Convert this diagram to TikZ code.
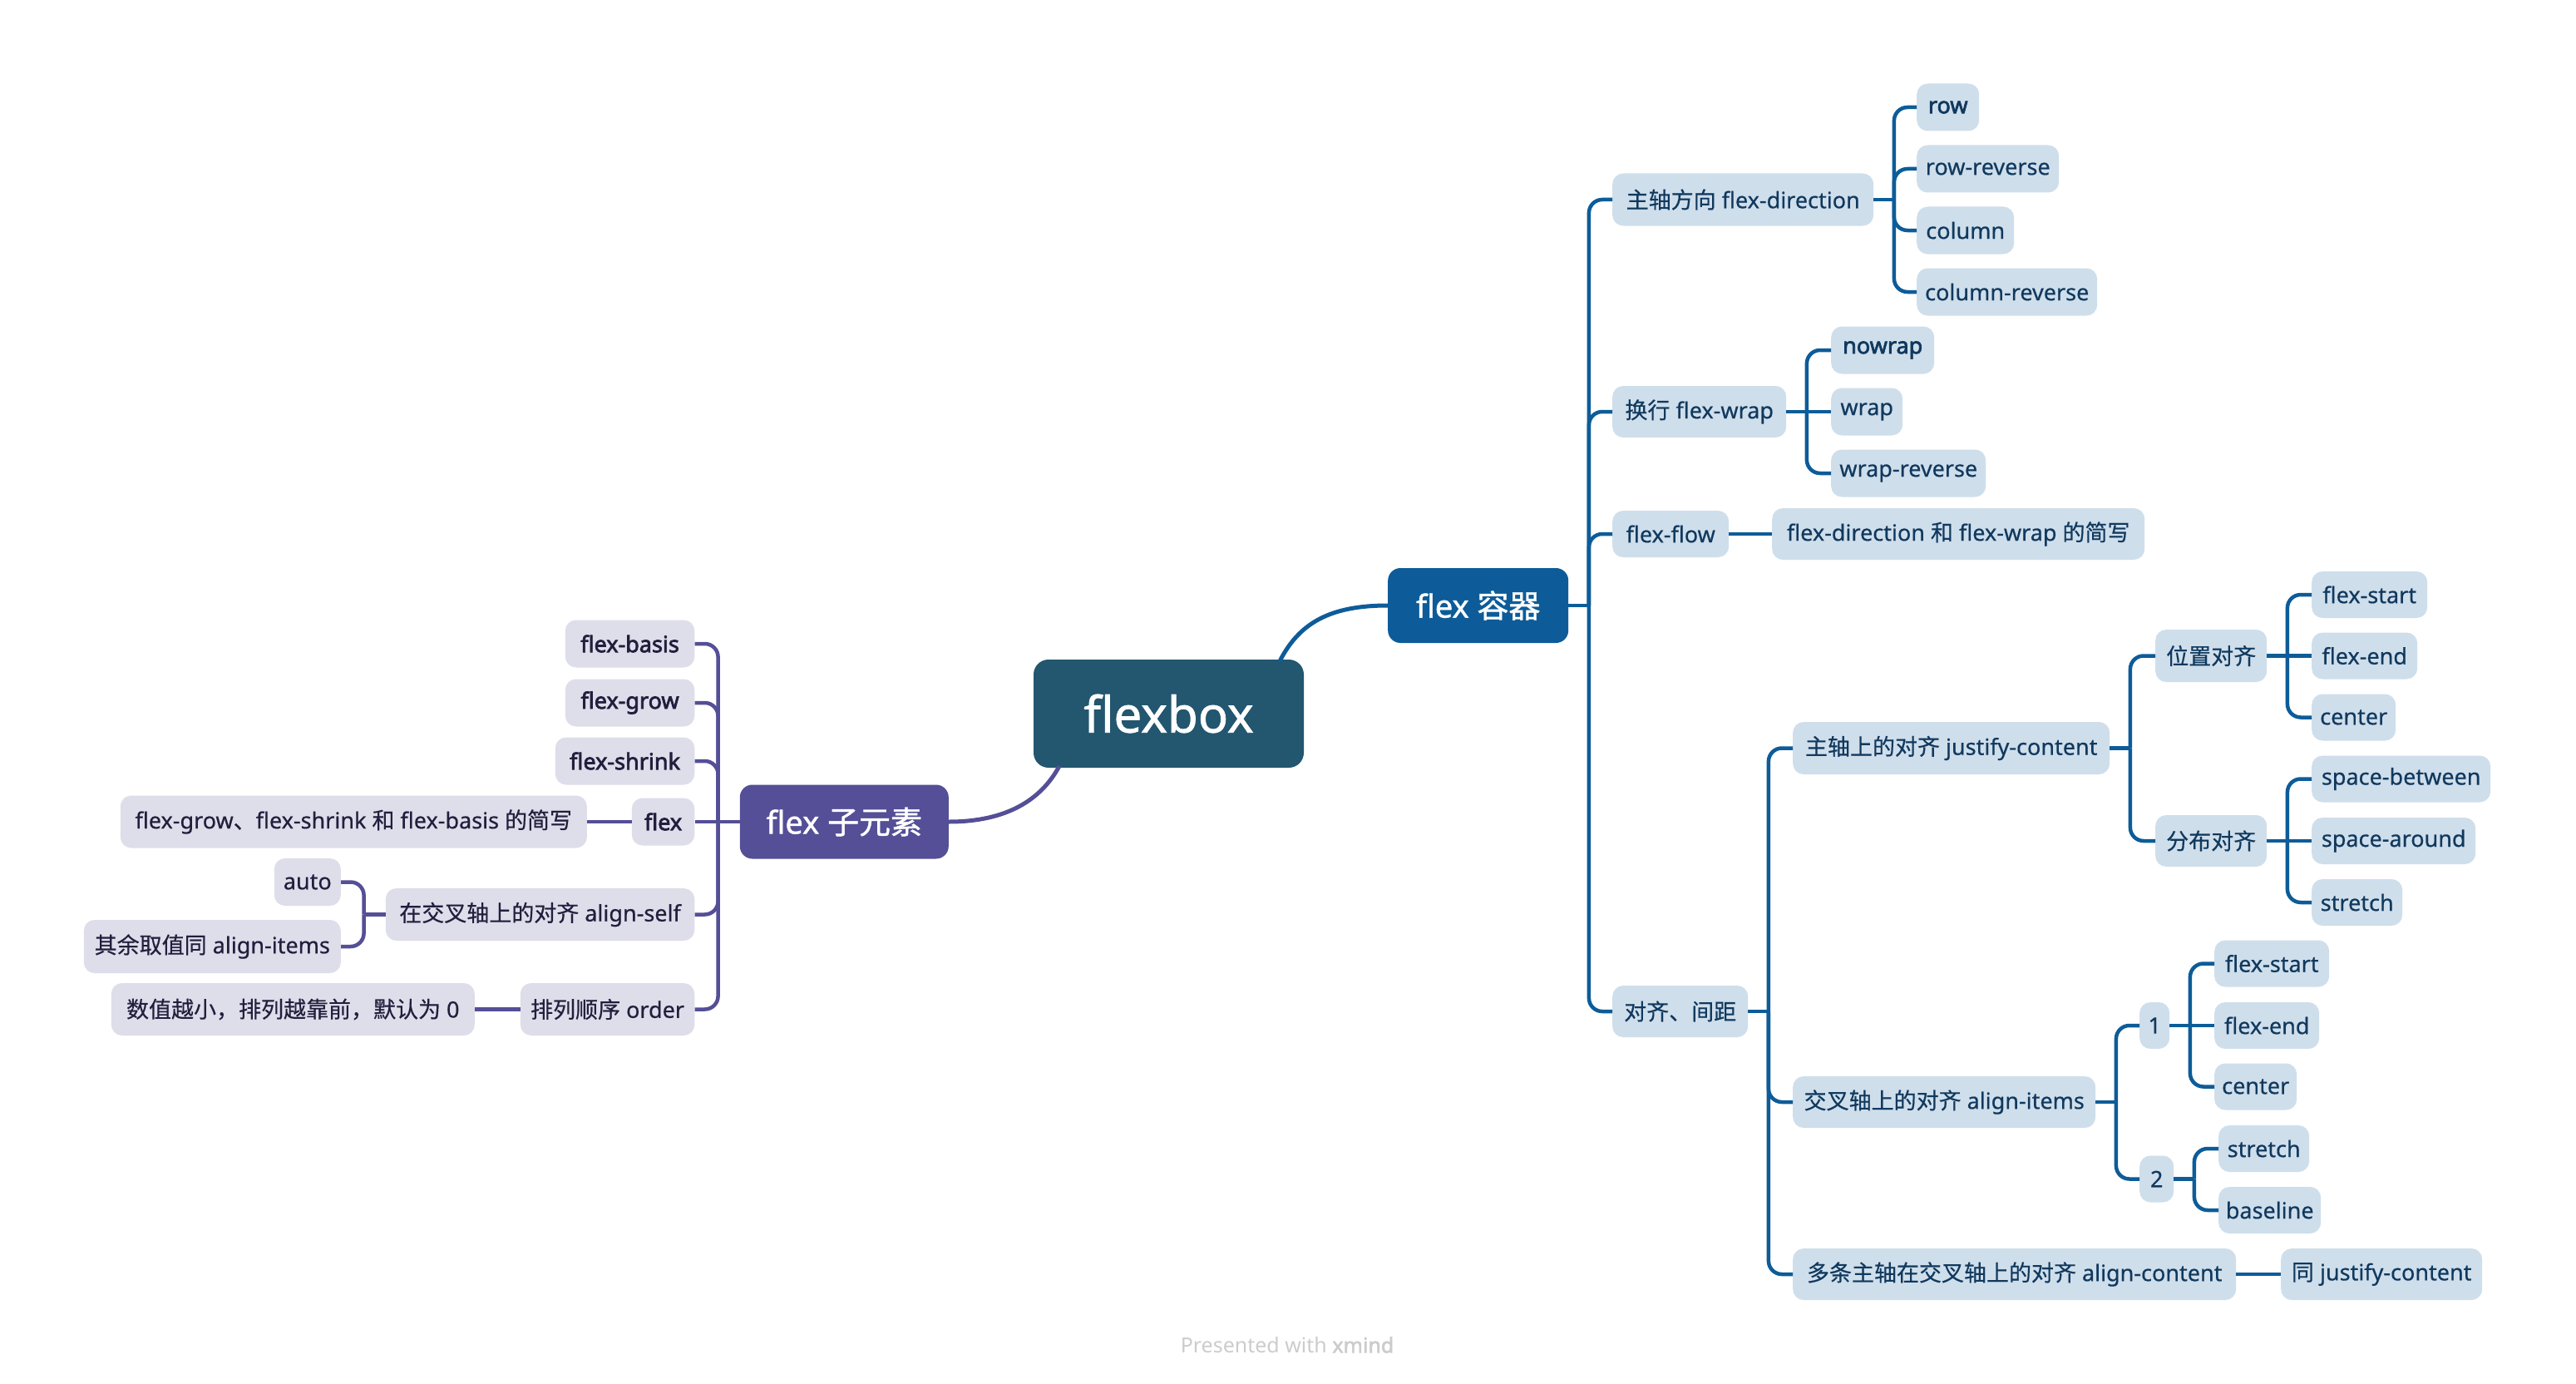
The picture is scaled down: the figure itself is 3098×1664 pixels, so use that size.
\documentclass[tikz,border=0pt]{standalone}
\usepackage{fontspec}
\setmainfont{Noto Sans}[FakeBold=0.5]
\newfontfamily\cjk{Noto Sans CJK SC}[FakeBold=0.5]
\newfontfamily\bff{Noto Sans}[FakeBold=2.6]
\newfontfamily\topicf{Noto Sans}[FakeBold=1.2]
\newfontfamily\topiccjk{Noto Sans CJK SC}[FakeBold=1.2]
\newfontfamily\wmf{Noto Sans}
\newfontfamily\wmb{Noto Sans}[FakeBold=2.2]
\newcommand\zh[1]{{\cjk #1}}
\newcommand\tzh[1]{{\topiccjk #1}}
\newcommand\bb[1]{{\bff #1}}
\usetikzlibrary{calc}
\definecolor{rootc}{HTML}{23566F}
\definecolor{bmain}{HTML}{0D5C99}
\definecolor{pmain}{HTML}{544F96}
\definecolor{bfill}{HTML}{CFDEEB}
\definecolor{pfill}{HTML}{DEDDEA}
\definecolor{btext}{HTML}{10395E}
\definecolor{ptext}{HTML}{221E3D}
\definecolor{wmc}{HTML}{CCCCCC}
\tikzset{
  base/.style={rounded corners=13pt, inner sep=0pt, minimum height=57pt, font=\fontsize{27}{31}\selectfont},
  bn/.style={base, fill=bfill, text=btext, anchor=west},
  pn/.style={base, fill=pfill, text=ptext, anchor=east},
  topic/.style={rounded corners=15pt, inner sep=0pt, text=white, font=\topicf\fontsize{38}{44}\selectfont},
  bl/.style={draw=bmain, line width=4.5pt, rounded corners=16pt},
  pl/.style={draw=pmain, line width=4.5pt, rounded corners=16pt},
}
\newcommand\rb[2]{\draw[bl] (#1.east) -- ++(24.5,0); \draw[bl] ($(#1.east)+(24.5,0)$) |- (#2.west);}
\newcommand\rd[2]{\draw[bl] (#1.east) -- (#2.west);}
\newcommand\lb[2]{\draw[pl] (#1.west) -- ++(-26,0); \draw[pl] ($(#1.west)+(-26,0)$) |- (#2.east);}
\newcommand\ld[2]{\draw[pl] (#1.west) -- (#2.east);}
\begin{document}
\begin{tikzpicture}[x=1pt,y=-1pt]
\fill[white] (0,0) rectangle (3098,1664);
\useasboundingbox (0,0) rectangle (3098,1664);

% main topics
\node[topic, fill=rootc, rounded corners=18pt, minimum width=325pt, minimum height=130pt, font=\topicf\fontsize{60}{70}\selectfont] (root) at (1405.5,858) {flexbox};
\node[topic, fill=bmain, anchor=west, minimum width=217pt, minimum height=90pt] (cont) at (1669,728) {flex \tzh{容器}};
\node[topic, fill=pmain, anchor=east, minimum width=251pt, minimum height=89pt] (item) at (1141,988) {flex \tzh{子元素}};

% blue level 2
\node[bn, minimum width=314pt, minimum height=63pt] (dir) at (1939,240) {\zh{主轴方向} flex-direction};
\node[bn, minimum width=209pt, minimum height=62pt] (wrapn) at (1939,495) {\zh{换行} flex-wrap};
\node[bn, minimum width=140pt, minimum height=56pt] (flow) at (1939,642) {flex-flow};
\node[bn, minimum width=163pt, minimum height=62pt] (align) at (1939,1216) {\zh{对齐、间距}};

% direction children
\node[bn, minimum width=75pt] (row) at (2305,129) {\bb{row}};
\node[bn, minimum width=171pt] (rowrev) at (2305,203) {row-reverse};
\node[bn, minimum width=117pt] (col) at (2305,277) {column};
\node[bn, minimum width=217pt] (colrev) at (2305,351) {column-reverse};

% wrap children
\node[bn, minimum width=124pt] (nowrap) at (2202,421) {\bb{nowrap}};
\node[bn, minimum width=86pt] (wrap) at (2202,495) {wrap};
\node[bn, minimum width=186pt] (wraprev) at (2202,569) {wrap-reverse};

% flow child
\node[bn, minimum width=448pt, minimum height=62pt] (flowd) at (2131,642) {flex-direction \zh{和} flex-wrap \zh{的简写}};

% align children
\node[bn, minimum width=381pt, minimum height=63pt] (jc) at (2156,899.5) {\zh{主轴上的对齐} justify-content};
\node[bn, minimum width=364pt, minimum height=62pt] (ai) at (2156,1325) {\zh{交叉轴上的对齐} align-items};
\node[bn, minimum width=533pt, minimum height=62pt] (ac) at (2156,1532) {\zh{多条主轴在交叉轴上的对齐} align-content};
\node[bn, minimum width=242pt, minimum height=62pt] (acd) at (2743,1532) {\zh{同} justify-content};

\node[bn, minimum width=134pt, minimum height=63pt] (pos) at (2592,788.5) {\zh{位置对齐}};
\node[bn, minimum width=134pt, minimum height=62pt] (dist) at (2592,1011) {\zh{分布对齐}};

\node[bn, minimum width=139pt, minimum height=56pt] (fsa) at (2780,715) {flex-start};
\node[bn, minimum width=127pt, minimum height=56pt] (fea) at (2780,788.5) {flex-end};
\node[bn, minimum width=101pt, minimum height=56pt] (cea) at (2780,862.5) {center};

\node[bn, minimum width=215pt, minimum height=56pt] (sb) at (2780,936.5) {space-between};
\node[bn, minimum width=197pt, minimum height=56pt] (sa) at (2780,1011) {space-around};
\node[bn, minimum width=109pt, minimum height=56pt] (sta) at (2780,1085) {stretch};

\node[bn, minimum width=36pt, minimum height=56pt] (one) at (2573,1233) {1};
\node[bn, minimum width=41pt, minimum height=56pt] (two) at (2573,1417.5) {2};

\node[bn, minimum width=138pt, minimum height=56pt] (fsb) at (2663,1158.5) {flex-start};
\node[bn, minimum width=126pt, minimum height=56pt] (feb) at (2663,1233) {flex-end};
\node[bn, minimum width=99pt, minimum height=56pt] (ceb) at (2663,1306.5) {center};

\node[bn, minimum width=109pt, minimum height=56pt] (stb) at (2668,1381) {stretch};
\node[bn, minimum width=123pt, minimum height=56pt] (bsl) at (2668,1455) {baseline};

% purple side
\node[pn, minimum width=155.5pt] (fb) at (835.5,774) {\bb{flex-basis}};
\node[pn, minimum width=155.5pt] (fg) at (835.5,845) {\bb{flex-grow}};
\node[pn, minimum width=167.5pt] (fsh) at (835.5,915) {\bb{flex-shrink}};
\node[pn, minimum width=75.5pt] (flx) at (835.5,988) {\bb{flex}};
\node[pn, minimum width=561pt, minimum height=63pt] (flxd) at (706,988) {flex-grow\zh{、}flex-shrink \zh{和} flex-basis \zh{的简写}};
\node[pn, minimum width=371.5pt, minimum height=63pt] (as) at (835.5,1099.5) {\zh{在交叉轴上的对齐} align-self};
\node[pn, minimum width=80pt] (auto) at (410,1060.5) {auto};
\node[pn, minimum width=309pt, minimum height=64pt] (other) at (410,1138) {\zh{其余取值同} align-items};
\node[pn, minimum width=209.5pt, minimum height=63pt] (ord) at (835.5,1213.5) {\zh{排列顺序} order};
\node[pn, minimum width=437pt, minimum height=63pt] (ordd) at (571,1213.5) {\zh{数值越小，排列越靠前，默认为} 0};

% root connectors
\coordinate (rootA) at (1539,795);
\coordinate (rootB) at (1274,921);
\draw[draw=bmain, line width=5pt] (rootA) .. controls (1562,750) and (1598,728) .. (cont.west);
\draw[draw=pmain, line width=5pt] (rootB) .. controls (1252,962) and (1210,988) .. (item.east);

% blue connectors
\rb{cont}{dir} \rb{cont}{wrapn} \rb{cont}{flow} \rb{cont}{align}
\rb{dir}{row} \rb{dir}{rowrev} \rb{dir}{col} \rb{dir}{colrev}
\rb{wrapn}{nowrap} \rd{wrapn}{wrap} \rb{wrapn}{wraprev}
\rd{flow}{flowd}
\rb{align}{jc} \rb{align}{ai} \rb{align}{ac}
\rd{ac}{acd}
\rb{jc}{pos} \rb{jc}{dist}
\rb{pos}{fsa} \rd{pos}{fea} \rb{pos}{cea}
\rb{dist}{sb} \rd{dist}{sa} \rb{dist}{sta}
\rb{ai}{one} \rb{ai}{two}
\rb{one}{fsb} \rd{one}{feb} \rb{one}{ceb}
\rb{two}{stb} \rb{two}{bsl}

% purple connectors
\lb{item}{fb} \lb{item}{fg} \lb{item}{fsh} \ld{item}{flx} \lb{item}{as} \lb{item}{ord}
\ld{flx}{flxd}
\lb{as}{auto} \lb{as}{other}
\ld{ord}{ordd}

\node[font=\wmf\fontsize{25}{29}\selectfont, text=wmc, inner sep=0pt] (wm) at (1548,1617) {Presented with {\wmb xmind}};
\end{tikzpicture}
\end{document}
